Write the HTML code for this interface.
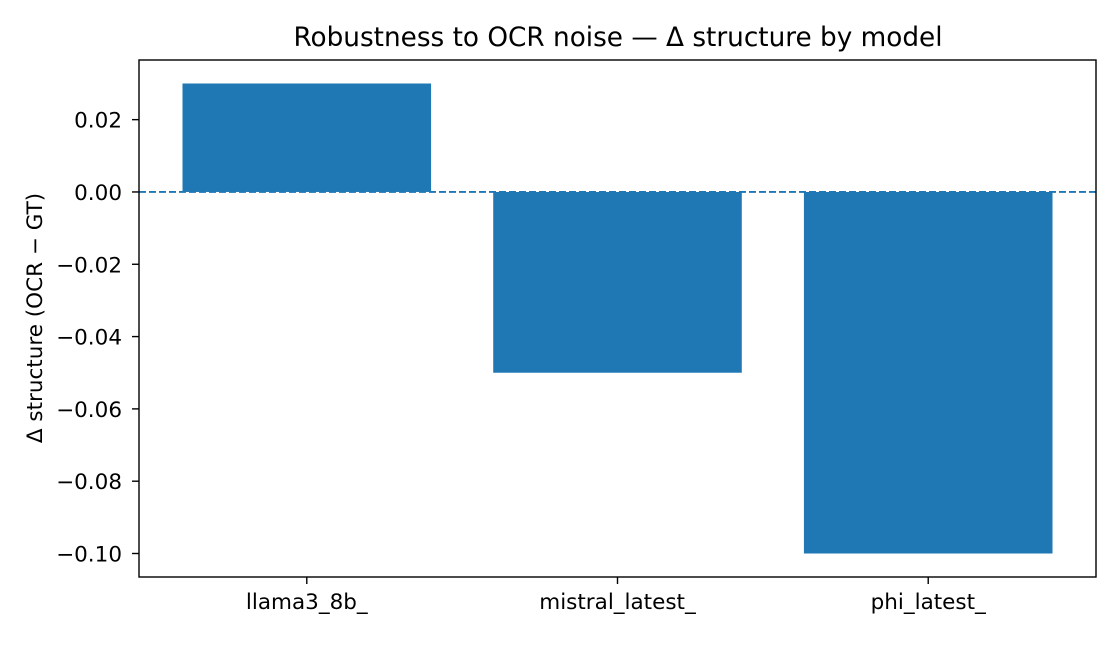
<!DOCTYPE html>
<html><head><meta charset="utf-8"><style>
body{margin:0;background:#fff;}
svg text{font-family:"DejaVu Sans","Liberation Sans",sans-serif;fill:#000;}
</style></head><body>
<svg id="chart" width="1120" height="640" xmlns="http://www.w3.org/2000/svg">
<rect width="1120" height="640" fill="#fff"/>
<text x="618" y="46" font-size="26.3" text-anchor="middle">Robustness to OCR noise — Δ structure by model</text>
<text transform="translate(42,318) rotate(-90)" font-size="21.5" text-anchor="middle">Δ structure (OCR − GT)</text>
<g id="bars"></g>
<g id="ticks"></g>
<rect x="139" y="60" width="957" height="517" fill="none" stroke="#000" stroke-width="1.4"/>
</svg>
<script>
const categories=["llama3_8b_","mistral_latest_","phi_latest_"];
const values=[0.03,-0.05,-0.10];
const yTicks=[0.02,0.00,-0.02,-0.04,-0.06,-0.08,-0.10];
const yTickLabels=["0.02","0.00","−0.02","−0.04","−0.06","−0.08","−0.10"];
const L=139,R=1096,T=60,B=577;
const vmin=Math.min(0,...values),vmax=Math.max(0,...values),pad=(vmax-vmin)*0.05;
const y0=vmin-pad,y1=vmax+pad;
const y=v=>B-(v-y0)/(y1-y0)*(B-T);
const x0=-0.54,x1=categories.length-1+0.54;
const x=v=>L+(v-x0)/(x1-x0)*(R-L);
const ns="http://www.w3.org/2000/svg";
const bars=document.getElementById('bars'),ticks=document.getElementById('ticks');
function mk(tag,attrs,parent){const e=document.createElementNS(ns,tag);for(const k in attrs)e.setAttribute(k,attrs[k]);parent.appendChild(e);return e;}
values.forEach((v,i)=>{
  const r=mk('rect',{x:x(i-0.4),y:Math.min(y(v),y(0)),width:x(i+0.4)-x(i-0.4),height:Math.abs(y(v)-y(0)),fill:'#1f77b4'},bars);
  
  
  const t=mk('line',{x1:x(i),x2:x(i),y1:B,y2:B+7,stroke:'#000','stroke-width':1.4},ticks);
  
  
  const l=mk('text',{x:x(i),y:B+32,'font-size':21.5,'text-anchor':'middle'},ticks);
  l.textContent=categories[i];
  
  
});
const zl=mk('line',{x1:L,x2:R,y1:y(0),y2:y(0),stroke:'#1f77b4','stroke-width':1.8,'stroke-dasharray':'7,3'},bars);


yTicks.forEach((v,i)=>{
  const t=mk('line',{x1:L-7,x2:L,y1:y(v),y2:y(v),stroke:'#000','stroke-width':1.4},ticks);
  
  
  const l=mk('text',{x:L-17,y:y(v)+8,'font-size':21.5,'text-anchor':'end'},ticks);
  l.textContent=yTickLabels[i];
  
  
});
</script>
</body></html>
